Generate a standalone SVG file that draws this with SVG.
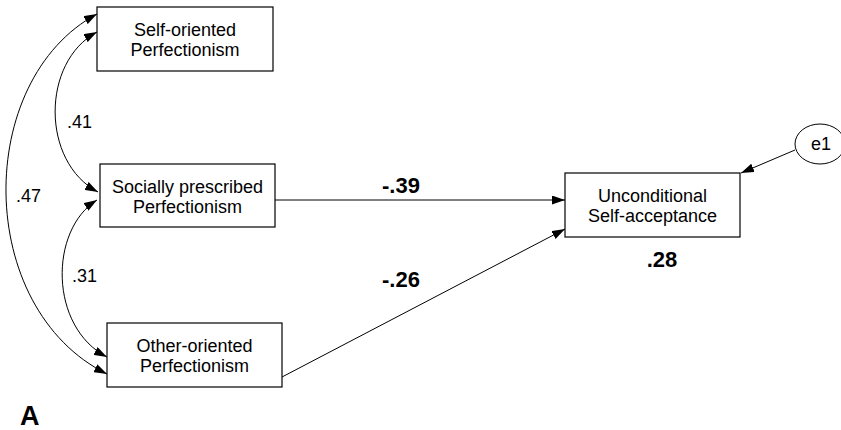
<svg xmlns="http://www.w3.org/2000/svg" width="841" height="430" viewBox="0 0 841 430">
<style>
.box{fill:#fff;stroke:#000;stroke-width:1.2}
.t{font-family:"Liberation Sans",Arial,sans-serif;font-size:18px;fill:#000;text-anchor:middle}
.lab{font-family:"Liberation Sans",Arial,sans-serif;font-size:18px;fill:#000}
.b{font-family:"Liberation Sans",Arial,sans-serif;font-size:22px;font-weight:bold;fill:#000}
.c{fill:none;stroke:#000;stroke-width:1}
</style>
<defs>
<marker id="ah" viewBox="0 0 13 9" refX="13" refY="4.5" markerWidth="13" markerHeight="9" markerUnits="userSpaceOnUse" orient="auto-start-reverse">
<path d="M0,0 L13,4.5 L0,9 Z" fill="#000"/>
</marker>
</defs>
<g id="connectors">
<path class="c" d="M97,32 C41,62 41,162 98,192" marker-start="url(#ah)" marker-end="url(#ah)"/>
<path class="c" d="M97,200 C49,230 49,327 107,357" marker-start="url(#ah)" marker-end="url(#ah)"/>
<path class="c" d="M97,14 C-26,80 -26,308 107,374" marker-start="url(#ah)" marker-end="url(#ah)"/>
<line class="c" x1="275" y1="200" x2="565" y2="200" marker-end="url(#ah)"/>
<line class="c" x1="282" y1="377" x2="565" y2="229" marker-end="url(#ah)"/>
<line class="c" x1="795" y1="150" x2="741" y2="173" marker-end="url(#ah)"/>
<text class="lab" x="67" y="128">.41</text>
<text class="lab" x="16" y="202">.47</text>
<text class="lab" x="72" y="282">.31</text>
<text class="b" x="382" y="193">-.39</text>
<text class="b" x="382" y="287">-.26</text>
</g>
<g id="self">
<rect class="box" x="97" y="7" width="176" height="64"/>
<text class="t" x="185" y="36">Self-oriented</text>
<text class="t" x="185" y="56">Perfectionism</text>
</g>
<g id="social">
<rect class="box" x="100" y="164" width="175" height="63"/>
<text class="t" x="187.5" y="193">Socially prescribed</text>
<text class="t" x="187.5" y="213">Perfectionism</text>
</g>
<g id="other">
<rect class="box" x="107" y="323" width="175" height="64"/>
<text class="t" x="194.5" y="352">Other-oriented</text>
<text class="t" x="194.5" y="372">Perfectionism</text>
</g>
<g id="usa">
<rect class="box" x="565" y="173" width="175" height="64"/>
<text class="t" x="652.5" y="202">Unconditional</text>
<text class="t" x="652.5" y="222">Self-acceptance</text>
<text class="b" x="662" y="267" text-anchor="middle">.28</text>
</g>
<g id="e1">
<ellipse cx="820" cy="144" rx="25" ry="20" fill="#fff" stroke="#000" stroke-width="1"/>
<text class="t" x="821" y="150">e1</text>
</g>
<text x="20" y="425" font-family="Liberation Sans,Arial,sans-serif" font-size="27" font-weight="bold">A</text>
</svg>
